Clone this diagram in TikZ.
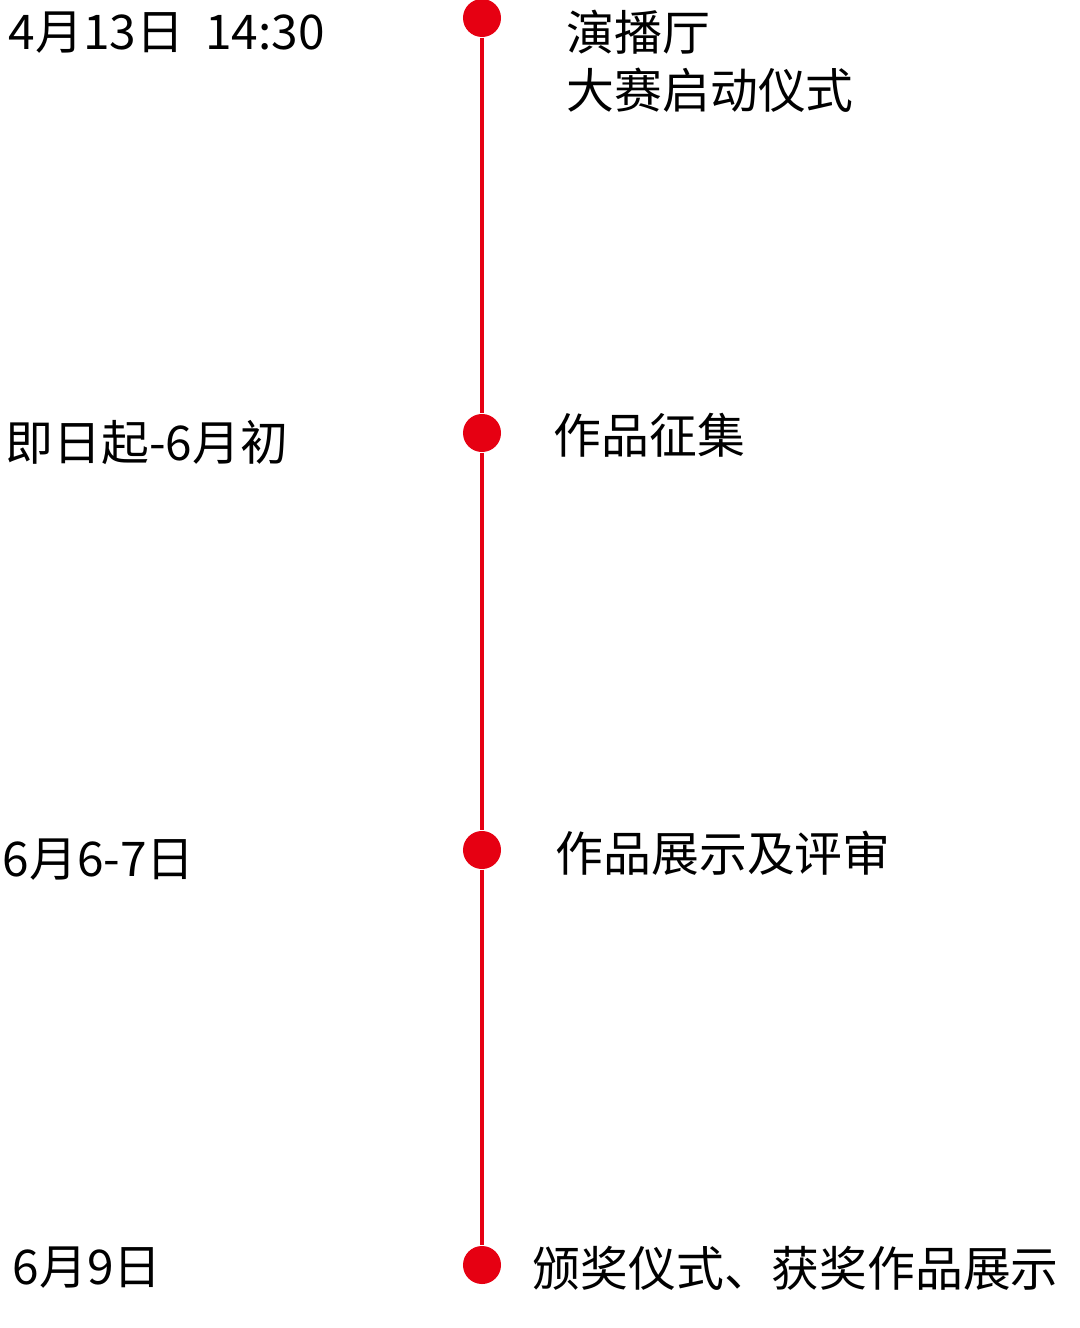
\documentclass[tikz,border=0pt]{standalone}
\usepackage{fontspec}
\newfontfamily\cjk{Noto Sans CJK SC}
\definecolor{tlred}{HTML}{E60012}

\begin{document}
\begin{tikzpicture}[x=0.01cm,y=-0.01cm,
  dot/.style={shape=circle,fill=tlred,minimum size=0.38cm,inner sep=0pt},
  lbl/.style={anchor=west,inner sep=0pt,font=\cjk\fontsize{13.6pt}{16.4pt}\selectfont,align=left}]
\useasboundingbox (0,0) rectangle (1080,1328);
\node[dot] (D1) at (482,18) {};
\node[dot] (D2) at (482,433) {};
\node[dot] (D3) at (482,850) {};
\node[dot] (D4) at (482,1265) {};
\path [-,draw=tlred,line width=0.9pt] (D1) edge (D2);
\path [-,draw=tlred,line width=0.9pt] (D2) edge (D3);
\path [-,draw=tlred,line width=0.9pt] (D3) edge (D4);
\node[lbl] (T1) at (8,33) {4月13日\ \ 14:30};
\node[lbl] (T2) at (5,443) {即日起-6月初};
\node[lbl] (T3) at (2,860) {6月6-7日};
\node[lbl] (T4) at (12,1268) {6月9日};
\node[lbl] (E1) at (566,61) {演播厅\\大赛启动仪式};
\node[lbl] (E2) at (553,435) {作品征集};
\node[lbl] (E3) at (555,853) {作品展示及评审};
\node[lbl] (E4) at (532,1268) {颁奖仪式、获奖作品展示};
\end{tikzpicture}
\end{document}
